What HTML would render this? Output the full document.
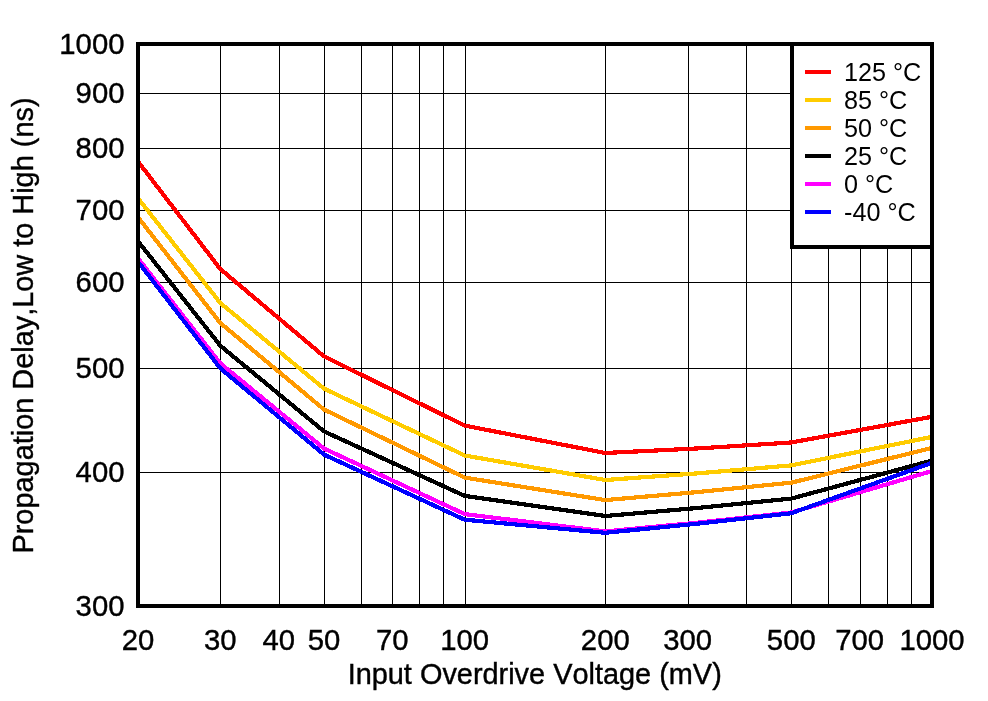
<!DOCTYPE html>
<html lang="en">
<head>
<meta charset="utf-8">
<title>Propagation Delay, Low to High vs Input Overdrive Voltage</title>
<style>
html,body{margin:0;padding:0;background:#fff;overflow:hidden}
svg{display:block}
text{font-family:"Liberation Sans",sans-serif;fill:#000;font-kerning:none}
.b{stroke:#000;stroke-width:0.4px}
</style>
</head>
<body>
<svg width="988" height="701" viewBox="0 0 988 701">
<rect width="988" height="701" fill="#fff"/>
<g shape-rendering="crispEdges" fill="#000">
<rect x="220" y="44" width="1" height="562"/>
<rect x="279" y="44" width="1" height="562"/>
<rect x="324" y="44" width="1" height="562"/>
<rect x="361" y="44" width="1" height="562"/>
<rect x="392" y="44" width="1" height="562"/>
<rect x="419" y="44" width="1" height="562"/>
<rect x="443" y="44" width="1" height="562"/>
<rect x="465" y="44" width="1" height="562"/>
<rect x="605" y="44" width="1" height="562"/>
<rect x="688" y="44" width="1" height="562"/>
<rect x="746" y="44" width="1" height="562"/>
<rect x="791" y="44" width="1" height="562"/>
<rect x="828" y="44" width="1" height="562"/>
<rect x="860" y="44" width="1" height="562"/>
<rect x="887" y="44" width="1" height="562"/>
<rect x="911" y="44" width="1" height="562"/>
<rect x="138" y="93" width="794" height="1"/>
<rect x="138" y="148" width="794" height="1"/>
<rect x="138" y="210" width="794" height="1"/>
<rect x="138" y="282" width="794" height="1"/>
<rect x="138" y="368" width="794" height="1"/>
<rect x="138" y="472" width="794" height="1"/>
</g>
<g fill="none" stroke-width="4.2" stroke-linejoin="round" stroke-linecap="butt" shape-rendering="crispEdges">
<polyline stroke="#ff00ff" points="138.0,258.3 220.3,363.3 324.0,448.5 464.7,514.1 605.3,531.4 698.3,522.6 791.3,512.5 932.0,471.0"/>
<polyline stroke="#000000" points="138.0,241.2 220.3,345.7 324.0,431.4 464.7,495.9 605.3,516.0 698.3,507.9 791.3,498.6 932.0,460.5"/>
<polyline stroke="#0000ff" points="138.0,261.7 220.3,368.3 324.0,454.6 464.7,519.7 605.3,532.8 698.3,523.6 791.3,513.2 932.0,462.8"/>
<polyline stroke="#ff9900" points="138.0,217.2 220.3,323.0 324.0,409.5 464.7,477.6 605.3,500.1 698.3,492.0 791.3,482.7 932.0,447.9"/>
<polyline stroke="#ffcc00" points="138.0,198.2 220.3,303.0 324.0,388.6 464.7,455.5 605.3,480.0 698.3,473.3 791.3,465.4 932.0,436.9"/>
<polyline stroke="#ff0000" points="138.0,161.5 220.3,269.0 324.0,356.4 464.7,425.6 605.3,453.0 698.3,448.4 791.3,442.5 932.0,416.8"/>
</g>
<g shape-rendering="crispEdges">
<rect x="792" y="44" width="140" height="203" fill="#fff" stroke="#000" stroke-width="4"/>
<rect x="138" y="44" width="794" height="562" fill="none" stroke="#000" stroke-width="4"/>
<rect x="805" y="70" width="26" height="4" fill="#ff0000"/>
<rect x="805" y="98" width="26" height="4" fill="#ffcc00"/>
<rect x="805" y="126" width="26" height="4" fill="#ff9900"/>
<rect x="805" y="154" width="26" height="4" fill="#000000"/>
<rect x="805" y="182" width="26" height="4" fill="#ff00ff"/>
<rect x="805" y="210" width="26" height="4" fill="#0000ff"/>
</g>
<g font-size="25.2">
<text x="844" y="80.7">125 °C</text>
<text x="844" y="108.7">85 °C</text>
<text x="844" y="136.7">50 °C</text>
<text x="844" y="164.7">25 °C</text>
<text x="844" y="192.7">0 °C</text>
<text x="844" y="220.7">-40 °C</text>
</g>
<g class="b" font-size="30.2" text-anchor="end">
<text transform="translate(124.5,54.3) scale(0.97,1)">1000</text>
<text transform="translate(124.5,102.7) scale(0.97,1)">900</text>
<text transform="translate(124.5,157.7) scale(0.97,1)">800</text>
<text transform="translate(124.5,220.0) scale(0.97,1)">700</text>
<text transform="translate(124.5,291.9) scale(0.97,1)">600</text>
<text transform="translate(124.5,377.9) scale(0.97,1)">500</text>
<text transform="translate(124.5,482.0) scale(0.97,1)">400</text>
<text transform="translate(124.5,616.3) scale(0.97,1)">300</text>
</g>
<g class="b" font-size="30.2" text-anchor="middle">
<text transform="translate(138.0,649.6) scale(0.97,1)">20</text>
<text transform="translate(220.3,649.6) scale(0.97,1)">30</text>
<text transform="translate(278.7,649.6) scale(0.97,1)">40</text>
<text transform="translate(324.0,649.6) scale(0.97,1)">50</text>
<text transform="translate(392.3,649.6) scale(0.97,1)">70</text>
<text transform="translate(464.7,649.6) scale(0.97,1)">100</text>
<text transform="translate(605.3,649.6) scale(0.97,1)">200</text>
<text transform="translate(687.6,649.6) scale(0.97,1)">300</text>
<text transform="translate(791.3,649.6) scale(0.97,1)">500</text>
<text transform="translate(859.6,649.6) scale(0.97,1)">700</text>
<text transform="translate(932.0,649.6) scale(0.97,1)">1000</text>
</g>
<text class="b" font-size="28.9" text-anchor="middle" x="534.7" y="684.1">Input Overdrive Voltage (mV)</text>
<text class="b" font-size="28.9" text-anchor="middle" transform="translate(33,325.5) rotate(-90)">Propagation Delay,Low to High (ns)</text>
</svg>
</body>
</html>
